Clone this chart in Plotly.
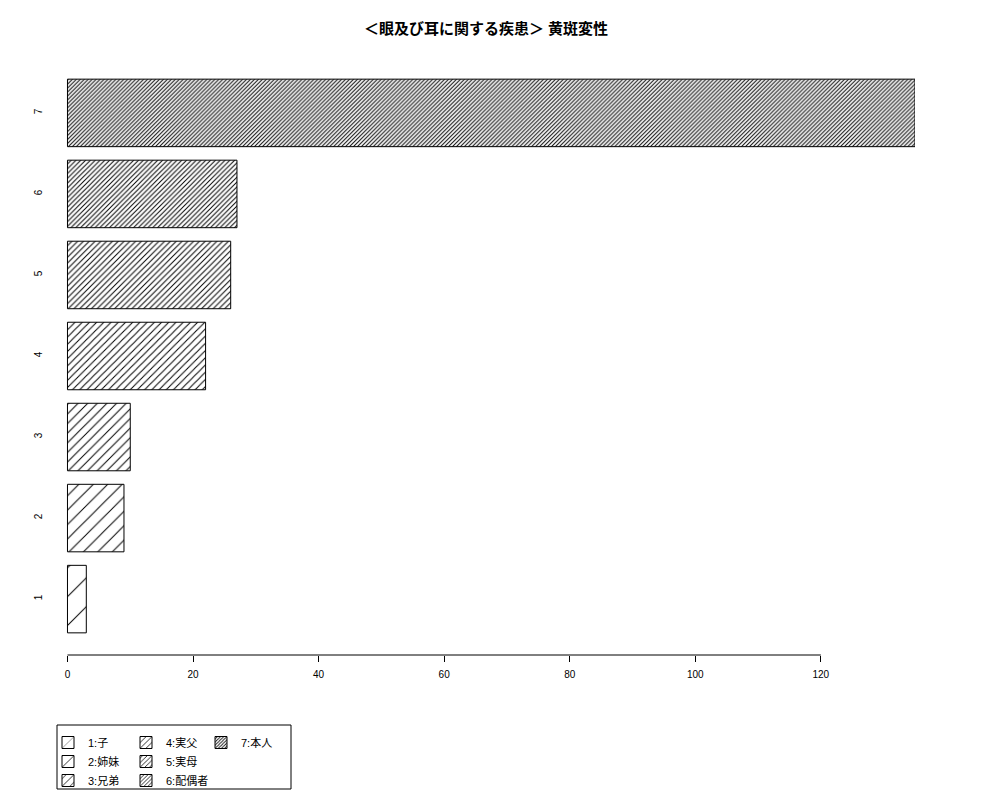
import plotly.graph_objects as go

title = "＜眼及び耳に関する疾患＞ 黄斑変性"
categories = ["1", "2", "3", "4", "5", "6", "7"]
values = [3, 9, 10, 22, 26, 27, 135]
legend_labels = ["1:子", "2:姉妹", "3:兄弟", "4:実父", "5:実母", "6:配偶者", "7:本人"]
pattern_sizes = [20.4, 10.2, 6.8, 5.1, 4.1, 3.4, 2.8]
x_ticks = [0, 20, 40, 60, 80, 100, 120]

FONT = "Liberation Sans, Noto Sans CJK JP, sans-serif"
legend_groups = ["legend", "legend", "legend", "legend2", "legend2", "legend2", "legend3"]

W, H = 1000, 800
OFF = 8  # page body offset
ML, MR, MT, MB = 59 - OFF, 85 + OFF, 57 - OFF, 145 + OFF

fig = go.Figure()
for i, cat in enumerate(categories):
    s = pattern_sizes[i]
    fig.add_trace(go.Bar(
        x=[values[i]], y=[cat], orientation="h", width=0.8333,
        name=legend_labels[i], legend=legend_groups[i],
        marker=dict(
            color="white",
            line=dict(color="black", width=1),
            pattern=dict(shape="/", size=s, solidity=min(0.9, 1.0 / s),
                         fgcolor="black", bgcolor="white", fillmode="replace"),
        ),
        showlegend=True,
    ))

# x axis line only spanning the ticks
fig.add_shape(type="line", xref="x", yref="paper", x0=x_ticks[0], x1=x_ticks[-1],
              y0=0, y1=0, line=dict(color="black", width=1))

# legend border box (pixel -> paper)
pw, ph = W - ML - MR, H - MT - MB
fig.add_shape(type="rect", xref="paper", yref="paper",
              x0=(57 - OFF - ML) / pw, x1=(291 - OFF - ML) / pw,
              y0=(H - MB - (789 - OFF)) / ph, y1=(H - MB - (725 - OFF)) / ph,
              line=dict(color="black", width=1), fillcolor="rgba(0,0,0,0)")

leg_common = dict(font=dict(family=FONT, size=11, color="black"),
                  bgcolor="rgba(0,0,0,0)", borderwidth=0,
                  xref="container", yref="container",
                  xanchor="left", yanchor="top", orientation="v",
                  tracegroupgap=0, itemclick=False, itemdoubleclick=False,
                  traceorder="normal")
ly = 1 - (728 - OFF) / H
fig.update_layout(
    width=W, height=H,
    paper_bgcolor="white", plot_bgcolor="white",
    margin=dict(l=ML, r=MR, t=MT, b=MB, autoexpand=False),
    title=dict(text="<b>" + title + "</b>", x=(486 - OFF) / W, xanchor="center",
               y=1 - (29 - OFF) / H,
               yanchor="middle", xref="container", yref="container",
               font=dict(family=FONT, size=15, color="black")),
    barmode="overlay",
    showlegend=True,
    legend=dict(x=(48 - OFF) / W, y=ly, **leg_common),
    legend2=dict(x=(126 - OFF) / W, y=ly, **leg_common),
    legend3=dict(x=(201 - OFF) / W, y=ly, **leg_common),
    xaxis=dict(range=[-1.35, 135], tickvals=x_ticks, ticks="outside", ticklen=6,
               tickcolor="black", showline=False, showgrid=False, zeroline=False,
               automargin=False, ticklabelstandoff=4,
               tickfont=dict(family=FONT, size=10, color="black")),
    yaxis=dict(type="category", categoryorder="array", categoryarray=categories,
               range=[-0.69, 6.69], showgrid=False, zeroline=False, showline=False,
               ticks="", tickangle=-90, ticklabelstandoff=14, automargin=False,
               tickfont=dict(family=FONT, size=10, color="black")),
)

fig.write_html("out.html")
